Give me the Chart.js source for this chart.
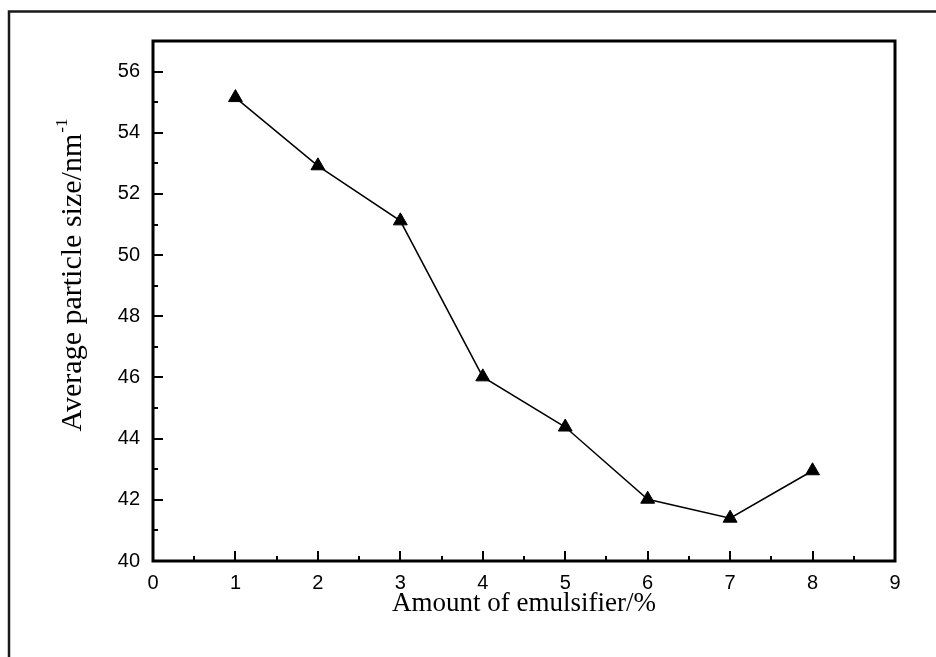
<!DOCTYPE html>
<html>
<head>
<meta charset="utf-8">
<script src="https://cdn.jsdelivr.net/npm/chart.js@4.4.1/dist/chart.umd.min.js"></script>
<style>
  html, body { margin: 0; padding: 0; background: #fff; }
  #wrap { position: relative; width: 936px; height: 657px; }
</style>
</head>
<body>
<div id="wrap"><canvas id="chart" width="936" height="657"></canvas></div>
<script>
// emulsifier dosage (%) vs. mean particle size
const emulsifierAmounts = [1, 2, 3, 4, 5, 6, 7, 8];
const particleSizes = [55.15, 52.92, 51.12, 46.02, 44.38, 42.02, 41.40, 42.95];

const xTickValues = [0, 1, 2, 3, 4, 5, 6, 7, 8, 9];
const yTickValues = [40, 42, 44, 46, 48, 50, 52, 54, 56];

const xTitle = 'Amount of emulsifier/%';
const yTitle = 'Average particle size/nm';
const yTitleSup = '-1';

const tickFont = { family: '"Liberation Sans", Arial, sans-serif', size: 20 };
const titleFamily = '"Liberation Serif", "Times New Roman", serif';

// frame, inward tick marks and axis titles
const axisDecor = {
  id: 'axisDecor',
  beforeDraw(chart) {
    const ctx = chart.ctx;
    ctx.save();
    ctx.fillStyle = '#fff';
    ctx.fillRect(0, 0, chart.width, chart.height);
    ctx.strokeStyle = '#1a1a1a';
    ctx.lineWidth = 2.5;
    ctx.beginPath();
    ctx.moveTo(9, chart.height);
    ctx.lineTo(9, 11.5);
    ctx.lineTo(chart.width, 11.5);
    ctx.stroke();
    ctx.restore();
  },
  afterDraw(chart) {
    const { ctx, chartArea: a, scales: { x, y } } = chart;
    ctx.save();
    ctx.strokeStyle = '#000';
    ctx.lineWidth = 3;
    ctx.strokeRect(a.left, a.top, a.right - a.left, a.bottom - a.top);

    ctx.lineWidth = 2;
    ctx.beginPath();
    for (let v = x.min + 0.5; v < x.max; v += 0.5) {
      const px = Math.round(x.getPixelForValue(v));
      const len = Number.isInteger(v) ? 10 : 5;
      ctx.moveTo(px, a.bottom);
      ctx.lineTo(px, a.bottom - len);
    }
    for (let v = y.min + 1; v < y.max; v += 1) {
      const py = Math.round(y.getPixelForValue(v));
      const len = v % 2 === 0 ? 10 : 5;
      ctx.moveTo(a.left, py);
      ctx.lineTo(a.left + len, py);
    }
    ctx.stroke();

    // x title
    ctx.fillStyle = '#000';
    ctx.font = '27px ' + titleFamily;
    ctx.textAlign = 'center';
    ctx.textBaseline = 'alphabetic';
    ctx.fillText(xTitle, (a.left + a.right) / 2, 611);

    // y title with superscript, rotated
    const mainFont = '30px ' + titleFamily;
    const supFont = '17px ' + titleFamily;
    ctx.font = mainFont;
    const wMain = ctx.measureText(yTitle).width;
    ctx.font = supFont;
    const wSup = ctx.measureText(yTitleSup).width;
    const total = wMain + wSup + 1;
    ctx.translate(81, 275);
    ctx.rotate(-Math.PI / 2);
    ctx.textAlign = 'left';
    ctx.font = mainFont;
    ctx.fillText(yTitle, -total / 2, 0);
    ctx.font = supFont;
    ctx.fillText(yTitleSup, -total / 2 + wMain + 1, -14);
    ctx.restore();
  }
};

new Chart(document.getElementById('chart'), {
  type: 'line',
  data: {
    datasets: [{
      data: emulsifierAmounts.map((v, i) => ({ x: v, y: particleSizes[i] })),
      borderColor: '#000',
      borderWidth: 1.5,
      backgroundColor: '#000',
      pointStyle: 'triangle',
      pointRadius: 8,
      pointBorderWidth: 1,
      pointBackgroundColor: '#000',
      pointBorderColor: '#000',
      tension: 0,
      clip: false
    }]
  },
  options: {
    responsive: false,
    animation: false,
    layout: { padding: { top: 41, right: 41, left: 0, bottom: 0 } },
    plugins: { legend: { display: false }, tooltip: { enabled: false } },
    scales: {
      x: {
        type: 'linear',
        min: 0,
        max: 9,
        afterBuildTicks: s => { s.ticks = xTickValues.map(v => ({ value: v })); },
        afterFit: s => { s.height = 96; },
        grid: { display: false, drawTicks: false },
        border: { display: false },
        ticks: { color: '#000', font: tickFont, padding: 10, maxRotation: 0 }
      },
      y: {
        type: 'linear',
        min: 40,
        max: 57,
        afterBuildTicks: s => { s.ticks = yTickValues.map(v => ({ value: v })); },
        afterFit: s => { s.width = 153; },
        grid: { display: false, drawTicks: false },
        border: { display: false },
        ticks: { color: '#000', font: tickFont, padding: 13 }
      }
    }
  },
  plugins: [axisDecor]
});
</script>
</body>
</html>
